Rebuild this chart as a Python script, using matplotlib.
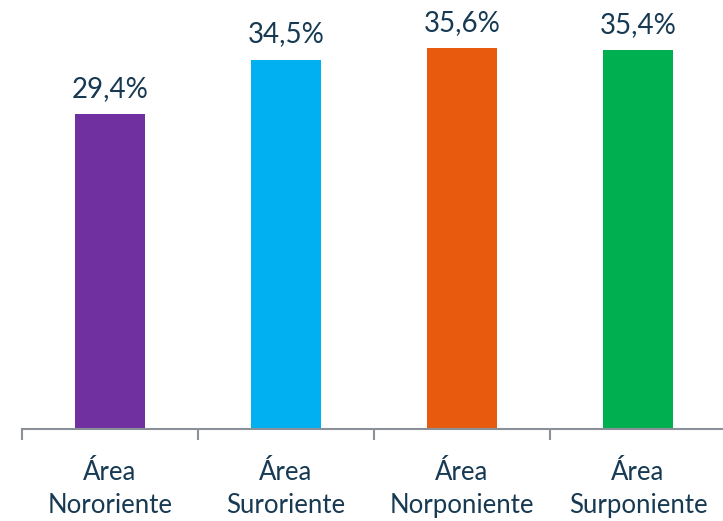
import matplotlib.pyplot as plt
import numpy as np

categorias = ['Área\nNororiente', 'Área\nSuroriente', 'Área\nNorponiente', 'Área\nSurponiente']
valores = [29.4, 34.5, 35.6, 35.4]
etiquetas = ['29,4%', '34,5%', '35,6%', '35,4%']
colores = ['#7030A0', '#00B0F0', '#E85B0E', '#00B050']

texto = '#173A52'
plt.rcParams['font.family'] = ['Lato', 'DejaVu Sans']

fig = plt.figure(figsize=(7.23, 5.21), dpi=100)
ax = fig.add_axes([22 / 723, 92 / 521, 704 / 723, 428 / 521])

x = np.arange(len(valores))
barras = ax.bar(x, valores, width=0.4, color=colores)
for b, lab in zip(barras, etiquetas):
    ax.annotate(lab, (b.get_x() + b.get_width() / 2, b.get_height()),
                xytext=(0, 9), textcoords='offset points',
                ha='center', va='bottom', fontsize=20, color=texto)

ax.set_xlim(-0.5, len(valores) - 0.5)
ax.set_ylim(0, 40)
ax.set_xticks(x)
ax.set_xticklabels(categorias, fontsize=18.5, color=texto, linespacing=1.4)
ax.set_xticks(np.arange(-0.5, len(valores)), minor=True)
ax.tick_params(axis='x', which='major', length=0, pad=22)
ax.tick_params(axis='x', which='minor', length=8, width=1.5, color='#8A8F98', direction='out')
ax.set_yticks([])
for s in ['top', 'right', 'left']:
    ax.spines[s].set_visible(False)
ax.spines['bottom'].set_color('#8A8F98')
ax.spines['bottom'].set_linewidth(1.5)

fig.savefig('out.png', dpi=100)
